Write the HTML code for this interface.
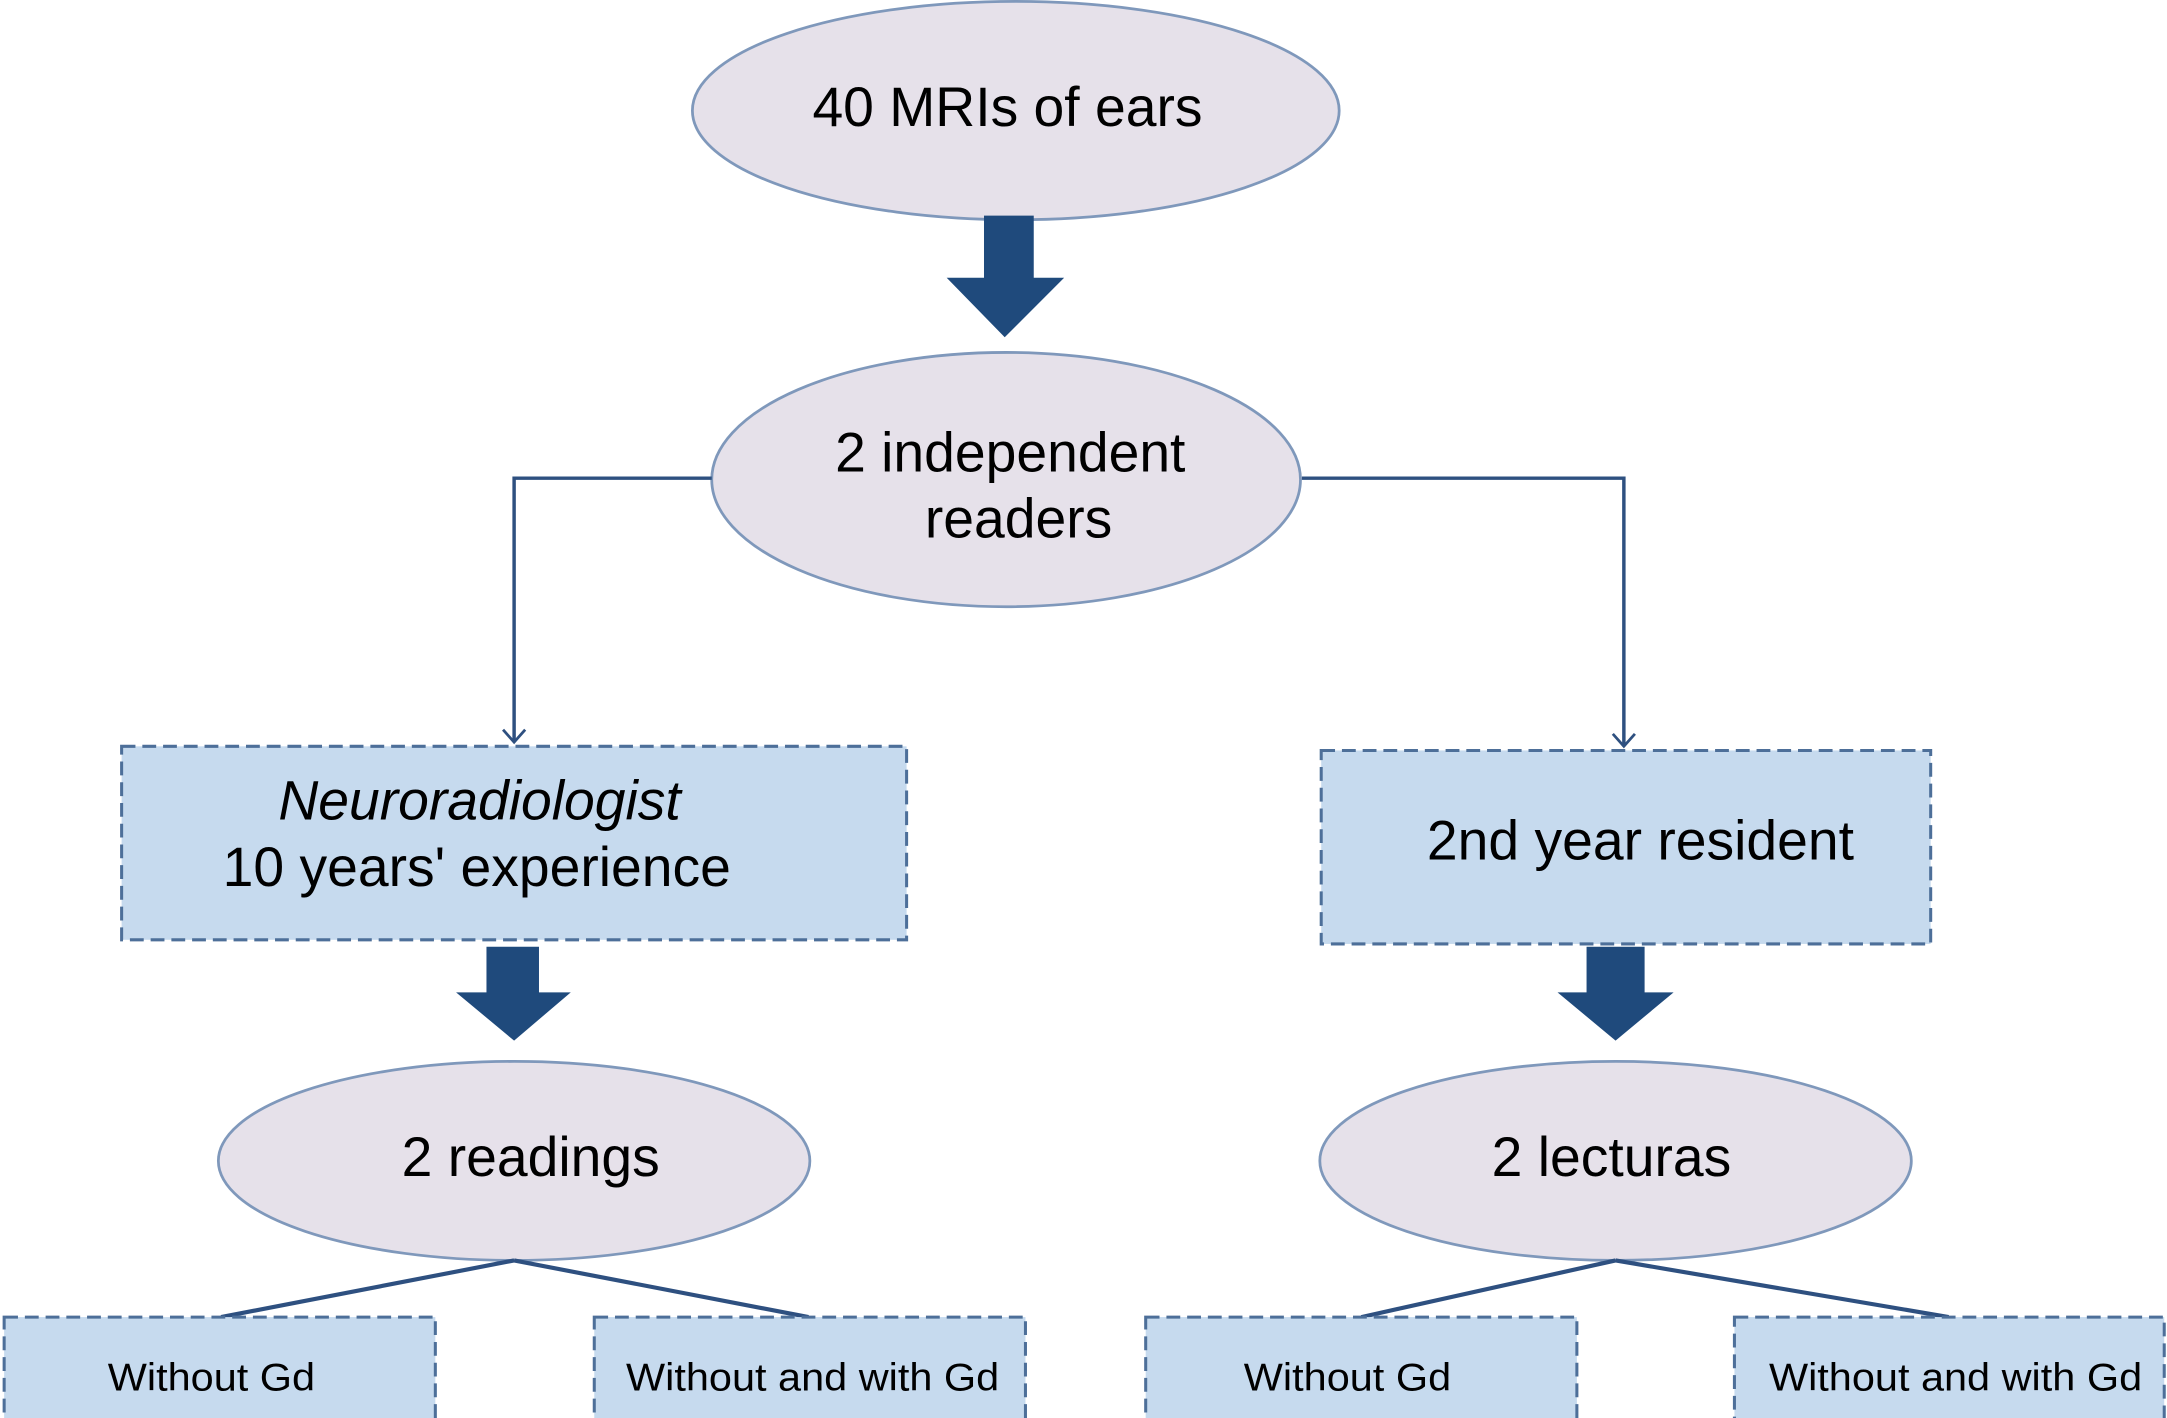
<!DOCTYPE html>
<html><head><meta charset="utf-8"><style>html,body{margin:0;padding:0;background:#fff}svg{display:block}</style></head>
<body>
<svg width="2167" height="1418" viewBox="0 0 1568 1026" xmlns="http://www.w3.org/2000/svg" font-family="Liberation Sans, sans-serif">
<defs><marker id="oa" markerWidth="20" markerHeight="20" refX="10" refY="10" orient="auto" markerUnits="userSpaceOnUse"><path d="M1,2 L10,10 L1,18" fill="none" stroke="#2e5080" stroke-width="2"/></marker></defs>
<g fill="#e6e1ea" stroke="#7f98bb" stroke-width="2">
<ellipse cx="735" cy="80" rx="234" ry="79"/>
<ellipse cx="728" cy="347" rx="213" ry="92"/>
<ellipse cx="372" cy="840" rx="214" ry="72"/>
<ellipse cx="1169" cy="840" rx="214" ry="72"/>
</g>
<g fill="#1f4a7c">
<path d="M712,156 H748 V201 H770 L727,244 L685,201 H712 Z"/>
<path d="M352,685 H390 V718 H413 L372,753 L330,718 H352 Z"/>
<path d="M1148,685 H1190 V718 H1211 L1169,753 L1127,718 H1148 Z"/>
</g>
<g fill="none" stroke="#2e5080" stroke-width="2.5">
<path d="M515,346 H372 V537" marker-end="url(#oa)"/>
<path d="M942,346 H1175 V540" marker-end="url(#oa)"/>
<path d="M372,912 L160,953 M372,912 L585,953 M1169,912 L985,953 M1169,912 L1410,953" stroke-width="3"/>
</g>
<g fill="#c6daee" stroke="#4d6f99" stroke-width="2.2" stroke-dasharray="10,5">
<rect x="88" y="540" width="568" height="140"/>
<rect x="956" y="543" width="441" height="140"/>
<rect x="3" y="953" width="312" height="75"/>
<rect x="430" y="953" width="312" height="75"/>
<rect x="829" y="953" width="312" height="75"/>
<rect x="1255" y="953" width="311" height="75"/>
</g>
<g fill="#000" text-anchor="middle" font-size="40">
<text x="729" y="91">40 MRIs of ears</text>
<text x="731" y="341">2 independent</text>
<text x="737" y="389">readers</text>
<text x="347" y="593" font-style="italic">Neuroradiologist</text>
<text x="345" y="641">10 years' experience</text>
<text x="1187" y="622">2nd year resident</text>
<text x="384" y="851">2 readings</text>
<text x="1166" y="851">2 lecturas</text>
</g>
<g fill="#000" text-anchor="middle" font-size="28">
<text x="153" y="1006" textLength="150" lengthAdjust="spacingAndGlyphs">Without Gd</text>
<text x="588" y="1006" textLength="270" lengthAdjust="spacingAndGlyphs">Without and with Gd</text>
<text x="975" y="1006" textLength="150" lengthAdjust="spacingAndGlyphs">Without Gd</text>
<text x="1415" y="1006" textLength="270" lengthAdjust="spacingAndGlyphs">Without and with Gd</text>
</g>
</svg>
</body></html>
